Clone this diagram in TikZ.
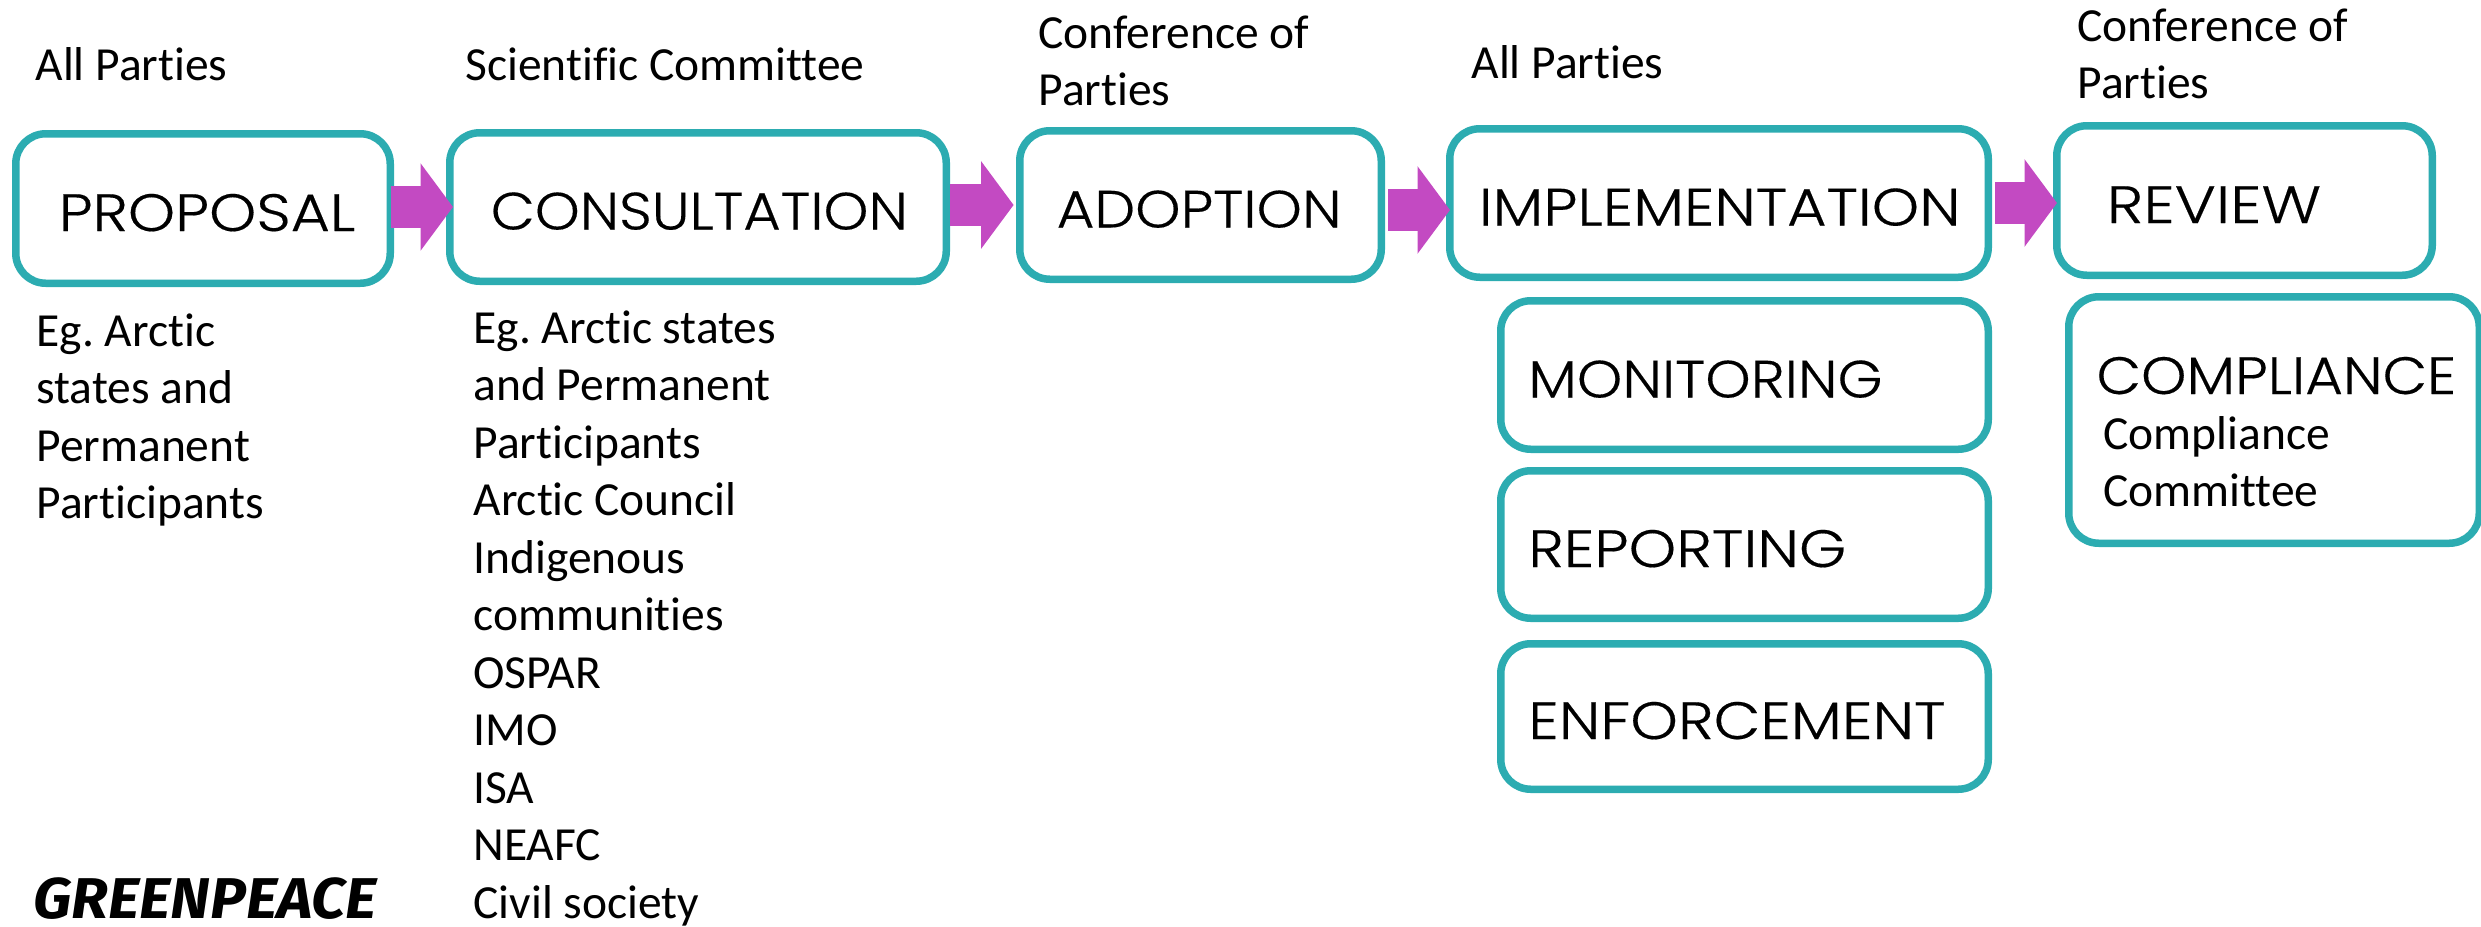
\documentclass[tikz,border=0pt]{standalone}
\usepackage{fontspec}
\usetikzlibrary{arrows.meta}
\setmainfont{Carlito}[Ligatures=NoCommon]
\newfontfamily\boxfont{Poppins Light}[FakeStretch=1.1,FakeBold=0.3]
\newfontfamily\logofont{Fira Sans}
\newlength{\pxunit}
\setlength{\pxunit}{0.4pt}
\frenchspacing
\begin{document}
\begin{tikzpicture}
[x=0.4pt,y=-0.4pt,
 stageDecorate/.style={shape=rectangle,draw=stageteal,line width=3pt,rounded corners=12pt,fill=white,
   inner xsep=0pt,inner ysep=0pt,align=left,text height=18pt,text depth=0pt,
   font={\boxfont\fontsize{21}{25}\selectfont}},
 noteDecorate/.style={shape=rectangle,inner sep=0pt,anchor=north west,align=left,
   font={\fontsize{19}{23}\selectfont}},
 flowArrow/.style={draw=flowmagenta,line width=16.8pt,
   -{Triangle[width=34.4pt,length=13pt,color=flowmagenta]}}]
\definecolor{stageteal}{HTML}{2CACB1}
\definecolor{flowmagenta}{HTML}{C34AC2}
\useasboundingbox (0,0) rectangle (2481,927);
%% stage boxes
\foreach \nodename/\x/\y/\w/\h/\pad/\stretch/\caption in {
  proposal/203/208.5/374.5/149.5/43/1.04/PROPOSAL,
  consultation/698/207/496.5/148.5/41/0.99/CONSULTATION,
  adoption/1200.5/205/361.5/148.5/37/1/ADOPTION,
  implementation/1719/203/538.5/148.5/29/1.045/IMPLEMENTATION,
  monitoring/1744.5/375/487.5/148.5/27.5/1/MONITORING,
  reporting/1744.5/544.5/487.5/147.5/27.5/1.05/REPORTING,
  enforcement/1744.5/716.5/487.5/145.5/27.5/1.05/ENFORCEMENT,
  review/2244.5/200.5/375.5/149.5/50/1.08/REVIEW,
  compliance/2274/420/410.5/246.5/0/1/{}}
{
  \node (\nodename) at (\x,\y) [stageDecorate,text width=\w\pxunit,minimum height=\h\pxunit]
    {\hspace*{\pad\pxunit}\scalebox{\stretch}[1]{\caption}};
}
\node (compliancetitle) at (2096,394) [anchor=base west,inner sep=0pt,
  font={\boxfont\fontsize{21}{25}\selectfont}] {COMPLIANCE};
%% arrows
\foreach \startnode/\endnode/\gap/\reach/\lift in {
  proposal/consultation/-3/7/1.5, consultation/adoption/0/-2.4/2,
  adoption/implementation/3/4/-5, implementation/review/3/4/0}
{
  \path ([yshift=\lift\pxunit]\startnode.east) coordinate (from);
  \draw[flowArrow,shorten <=\gap\pxunit,shorten >=-\reach\pxunit] (from) -- (from -| \endnode.west);
}
%% notes
\node (partiesA) at (35,47) [noteDecorate] {All Parties};
\node (committee) at (465,47) [noteDecorate] {Scientific Committee};
\node (conferenceA) at (1038,15) [noteDecorate] {Conference of\\Parties};
\node (partiesB) at (1471,45) [noteDecorate] {All Parties};
\node (conferenceB) at (2077,8) [noteDecorate] {Conference of\\Parties};
\node (proposers) at (36,313) [noteDecorate]
  {Eg. Arctic\\states and\\Permanent\\Participants};
\node (consultees) at (473,310) [noteDecorate]
  {Eg. Arctic states\\and Permanent\\Participants\\Arctic Council\\Indigenous\\communities\\OSPAR\\IMO\\ISA\\NEAFC\\Civil society};
\node (compliancenote) at (2103,416) [noteDecorate] {Compliance\\Committee};
%% logo
\node (logo) at (33,918) [anchor=base west,inner sep=0pt,
  font={\logofont\bfseries\itshape\fontsize{23}{28}\selectfont}] {\scalebox{1.05}[1]{GREENPEACE}};
\end{tikzpicture}
\end{document}
